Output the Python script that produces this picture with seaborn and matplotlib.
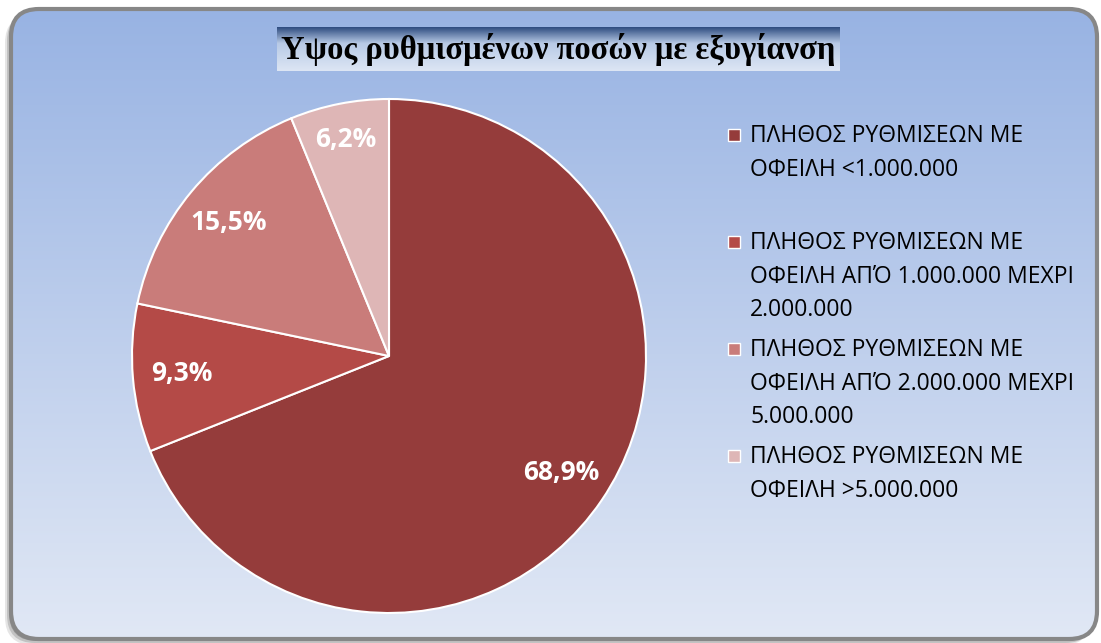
import numpy as np
import matplotlib
matplotlib.use("Agg")
import matplotlib.pyplot as plt
import seaborn as sns
from matplotlib.patches import FancyBboxPatch, Rectangle
from matplotlib.colors import to_rgb

# ---- data ----
categories = [
    "ΠΛΗΘΟΣ ΡΥΘΜΙΣΕΩΝ ΜΕ\nΟΦΕΙΛΗ <1.000.000",
    "ΠΛΗΘΟΣ ΡΥΘΜΙΣΕΩΝ ΜΕ\nΟΦΕΙΛΗ ΑΠΌ 1.000.000 ΜΕΧΡΙ\n2.000.000",
    "ΠΛΗΘΟΣ ΡΥΘΜΙΣΕΩΝ ΜΕ\nΟΦΕΙΛΗ ΑΠΌ 2.000.000 ΜΕΧΡΙ\n5.000.000",
    "ΠΛΗΘΟΣ ΡΥΘΜΙΣΕΩΝ ΜΕ\nΟΦΕΙΛΗ >5.000.000",
]
shares = [68.9, 9.3, 15.5, 6.2]
pct_labels = ["68,9%", "9,3%", "15,5%", "6,2%"]
colors = ["#953C3B", "#B44A47", "#C97C7A", "#DEB6B6"]
title = "Υψος ρυθμισμένων ποσών με εξυγίανση"

sns.set_theme(style="white")
plt.rcParams['font.family'] = ['Open Sans', 'DejaVu Sans']

W, H = 1101, 643
fig = plt.figure(figsize=(W / 100, H / 100), dpi=100)
fig.patch.set_facecolor("white")

bg = fig.add_axes([0, 0, 1, 1])
bg.set_xlim(0, W)
bg.set_ylim(H, 0)
bg.axis("off")

def vgrad(c_top, c_bot, n=256):
    a = np.array(to_rgb(c_top)); b = np.array(to_rgb(c_bot))
    t = np.linspace(0, 1, n)[:, None]
    return (a * (1 - t) + b * t)[:, None, :]

# shadow
for i, a in enumerate([0.10, 0.15, 0.22]):
    off = 6 - 2 * i
    sh = FancyBboxPatch((11 - off, 9 + off), 1086, 630,
                        boxstyle="round,pad=0,rounding_size=28",
                        facecolor="black", edgecolor="none", alpha=a, zorder=0)
    bg.add_patch(sh)

frame = FancyBboxPatch((11, 9), 1086, 630, boxstyle="round,pad=0,rounding_size=28",
                       facecolor="none", edgecolor="#878787", linewidth=3, zorder=3)
im = bg.imshow(vgrad("#98B3E3", "#E1E8F5"), extent=[11, 1097, 639, 9],
               origin="upper", aspect="auto", zorder=1)
clip = FancyBboxPatch((11, 9), 1086, 630, boxstyle="round,pad=0,rounding_size=28",
                      facecolor="none", edgecolor="none", transform=bg.transData)
bg.add_patch(clip)
im.set_clip_path(clip)
bg.add_patch(frame)

# title box gradient
tb = np.concatenate([vgrad("#2E4C80", "#B8CAE6", 45), vgrad("#B8CAE6", "#DDE6F4", 75)])
bg.imshow(tb, extent=[277, 840, 71, 27], origin="upper", aspect="auto", zorder=2)
bg.text(558, 50, title, ha="center", va="center", fontsize=23.5, fontweight="bold",
        family=["Liberation Serif", "DejaVu Serif"], color="black", zorder=4)

# pie
cx, cy, r = 389, 356, 257
ax = fig.add_axes([(cx - r) / W, (H - cy - r) / H, 2 * r / W, 2 * r / H])
wedges, texts = ax.pie(shares, colors=colors, startangle=90, counterclock=False,
                       labels=pct_labels, labeldistance=0.81,
                       wedgeprops=dict(edgecolor="white", linewidth=1.5))
for i, t in enumerate(texts):
    t.set_ha("center"); t.set_va("center")
    t.set_color("white"); t.set_fontsize(19); t.set_fontweight("bold")
x, y = texts[3].get_position()
texts[3].set_position((x * 0.86 / 0.81, y * 0.86 / 0.81))
ax.set_xlim(-1, 1); ax.set_ylim(-1, 1)
ax.axis("off")

# legend
y0 = 135
step = 107
for i, (lab, c) in enumerate(zip(categories, colors)):
    yy = y0 + i * step
    bg.add_patch(Rectangle((728, yy - 6), 12, 12, facecolor=c, edgecolor="white",
                           linewidth=1, zorder=4))
    bg.text(750, yy - 11, lab, ha="left", va="top", fontsize=16.5,
            linespacing=1.53, color="black", zorder=4)

fig.savefig("out.png", dpi=100)
